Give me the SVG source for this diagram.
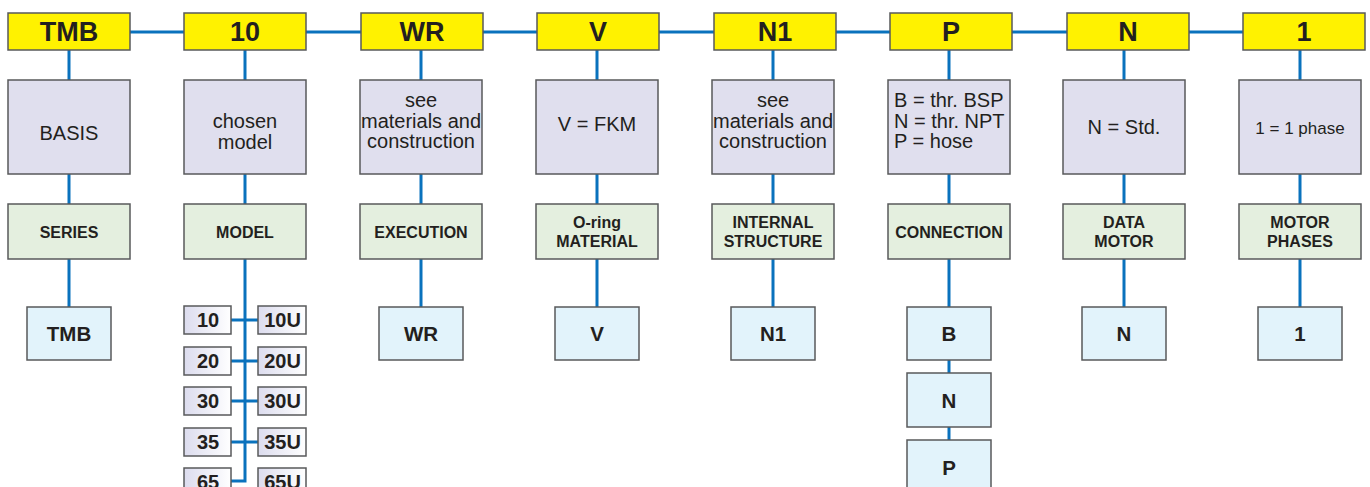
<svg xmlns="http://www.w3.org/2000/svg" width="1370" height="487" viewBox="0 0 1370 487">
<style>
.y{fill:#fff200;stroke:#58595b;stroke-width:1.5}
.g{fill:#e0dfee;stroke:#58595b;stroke-width:1.5}
.gr{fill:#e4efdf;stroke:#58595b;stroke-width:1.5}
.b{fill:#e2f3fb;stroke:#58595b;stroke-width:1.5}
.s{fill:url(#sg);stroke:#58595b;stroke-width:1.5}
.ln{stroke:#0a72bd;stroke-width:3;fill:none}
text{font-family:"Liberation Sans",Arial,sans-serif;fill:#231f20;text-anchor:middle}
.yt{font-size:27px;font-weight:bold}
.gt{font-size:20px}
.grt{font-size:16px;font-weight:bold}
.bt{font-size:20.5px;font-weight:bold}
.st{font-size:20px;font-weight:bold}
</style>
<defs>
<linearGradient id="sg" x1="0" y1="0" x2="1" y2="0">
<stop offset="0" stop-color="#dcdcee"/>
<stop offset="1" stop-color="#ffffff"/>
</linearGradient>
</defs>
<g id="connectors">
<line class="ln" x1="130" y1="32" x2="1243" y2="32"/>
<path class="ln" d="M69 50V80M69 174V204M69 259V307"/>
<path class="ln" d="M245 50V80M245 174V204M245 259V481H231"/>
<path class="ln" d="M231 320H258M231 361H258M231 401H258M231 442H258"/>
<path class="ln" d="M421 50V80M421 174V204M421 259V307"/>
<path class="ln" d="M597 50V80M597 174V204M597 259V307"/>
<path class="ln" d="M773 50V80M773 174V204M773 259V307"/>
<path class="ln" d="M949 50V80M949 174V204M949 259V307M949 360V373M949 427V440"/>
<path class="ln" d="M1124 50V80M1124 174V204M1124 259V307"/>
<path class="ln" d="M1300 50V80M1300 174V204M1300 259V307"/>
</g>
<g id="col1">
<rect class="y" x="8" y="13" width="122" height="37"/><text class="yt" x="69" y="41">TMB</text>
<rect class="g" x="8" y="80" width="122" height="94"/><text class="gt" x="69" y="140">BASIS</text>
<rect class="gr" x="8" y="204" width="122" height="55"/><text class="grt" x="69" y="238">SERIES</text>
<rect class="b" x="27" y="307" width="84" height="53"/><text class="bt" x="69" y="341">TMB</text>
</g>
<g id="col2">
<rect class="y" x="184" y="13" width="122" height="37"/><text class="yt" x="245" y="41">10</text>
<rect class="g" x="184" y="80" width="122" height="94"/><text class="gt" x="245" y="128">chosen</text><text class="gt" x="245" y="149">model</text>
<rect class="gr" x="184" y="204" width="122" height="55"/><text class="grt" x="245" y="238">MODEL</text>
</g>
<g id="models">
<rect class="s" x="184" y="306" width="47" height="28"/><text class="st" x="208" y="327">10</text>
<rect class="s" x="258" y="306" width="48" height="28"/><text class="st" x="282.5" y="327">10U</text>
<rect class="s" x="184" y="347" width="47" height="28"/><text class="st" x="208" y="368">20</text>
<rect class="s" x="258" y="347" width="48" height="28"/><text class="st" x="282.5" y="368">20U</text>
<rect class="s" x="184" y="387" width="47" height="28"/><text class="st" x="208" y="408">30</text>
<rect class="s" x="258" y="387" width="48" height="28"/><text class="st" x="282.5" y="408">30U</text>
<rect class="s" x="184" y="428" width="47" height="28"/><text class="st" x="208" y="449">35</text>
<rect class="s" x="258" y="428" width="48" height="28"/><text class="st" x="282.5" y="449">35U</text>
<rect class="s" x="184" y="468" width="47" height="28"/><text class="st" x="208" y="489">65</text>
<rect class="s" x="258" y="468" width="48" height="28"/><text class="st" x="282.5" y="489">65U</text>
</g>
<g id="col3">
<rect class="y" x="361" y="13" width="122" height="37"/><text class="yt" x="422" y="41">WR</text>
<rect class="g" x="360" y="80" width="122" height="94"/><text class="gt" x="421" y="107">see</text><text class="gt" x="421" y="128">materials and</text><text class="gt" x="421" y="148">construction</text>
<rect class="gr" x="360" y="204" width="122" height="55"/><text class="grt" x="421" y="238">EXECUTION</text>
<rect class="b" x="379" y="307" width="84" height="53"/><text class="bt" x="421" y="341">WR</text>
</g>
<g id="col4">
<rect class="y" x="537" y="13" width="122" height="37"/><text class="yt" x="598" y="41">V</text>
<rect class="g" x="536" y="80" width="122" height="94"/><text class="gt" x="597" y="131">V = FKM</text>
<rect class="gr" x="536" y="204" width="122" height="55"/><text class="grt" x="597" y="228">O-ring</text><text class="grt" x="597" y="247">MATERIAL</text>
<rect class="b" x="555" y="307" width="84" height="53"/><text class="bt" x="597" y="341">V</text>
</g>
<g id="col5">
<rect class="y" x="714" y="13" width="122" height="37"/><text class="yt" x="775" y="41">N1</text>
<rect class="g" x="712" y="80" width="122" height="94"/><text class="gt" x="773" y="107">see</text><text class="gt" x="773" y="128">materials and</text><text class="gt" x="773" y="148">construction</text>
<rect class="gr" x="712" y="204" width="122" height="55"/><text class="grt" x="773" y="228">INTERNAL</text><text class="grt" x="773" y="247">STRUCTURE</text>
<rect class="b" x="731" y="307" width="84" height="53"/><text class="bt" x="773" y="341">N1</text>
</g>
<g id="col6">
<rect class="y" x="890" y="13" width="122" height="37"/><text class="yt" x="951" y="41">P</text>
<rect class="g" x="888" y="80" width="122" height="94"/><text class="gt" x="894" y="107" style="text-anchor:start">B = thr. BSP</text><text class="gt" x="894" y="128" style="text-anchor:start">N = thr. NPT</text><text class="gt" x="894" y="148" style="text-anchor:start">P = hose</text>
<rect class="gr" x="888" y="204" width="122" height="55"/><text class="grt" x="949" y="238">CONNECTION</text>
<rect class="b" x="907" y="307" width="84" height="53"/><text class="bt" x="949" y="341">B</text>
<rect class="b" x="907" y="373" width="84" height="54"/><text class="bt" x="949" y="408">N</text>
<rect class="b" x="907" y="440" width="84" height="54"/><text class="bt" x="949" y="475">P</text>
</g>
<g id="col7">
<rect class="y" x="1067" y="13" width="122" height="37"/><text class="yt" x="1128" y="41">N</text>
<rect class="g" x="1063" y="80" width="122" height="94"/><text class="gt" x="1124" y="134">N = Std.</text>
<rect class="gr" x="1063" y="204" width="122" height="55"/><text class="grt" x="1124" y="228">DATA</text><text class="grt" x="1124" y="247">MOTOR</text>
<rect class="b" x="1082" y="307" width="84" height="53"/><text class="bt" x="1124" y="341">N</text>
</g>
<g id="col8">
<rect class="y" x="1243" y="13" width="122" height="37"/><text class="yt" x="1304" y="41">1</text>
<rect class="g" x="1239" y="80" width="122" height="94"/><text class="gt" x="1300" y="134" style="font-size:17px">1 = 1 phase</text>
<rect class="gr" x="1239" y="204" width="122" height="55"/><text class="grt" x="1300" y="228">MOTOR</text><text class="grt" x="1300" y="247">PHASES</text>
<rect class="b" x="1258" y="307" width="84" height="53"/><text class="bt" x="1300" y="341">1</text>
</g>
</svg>
